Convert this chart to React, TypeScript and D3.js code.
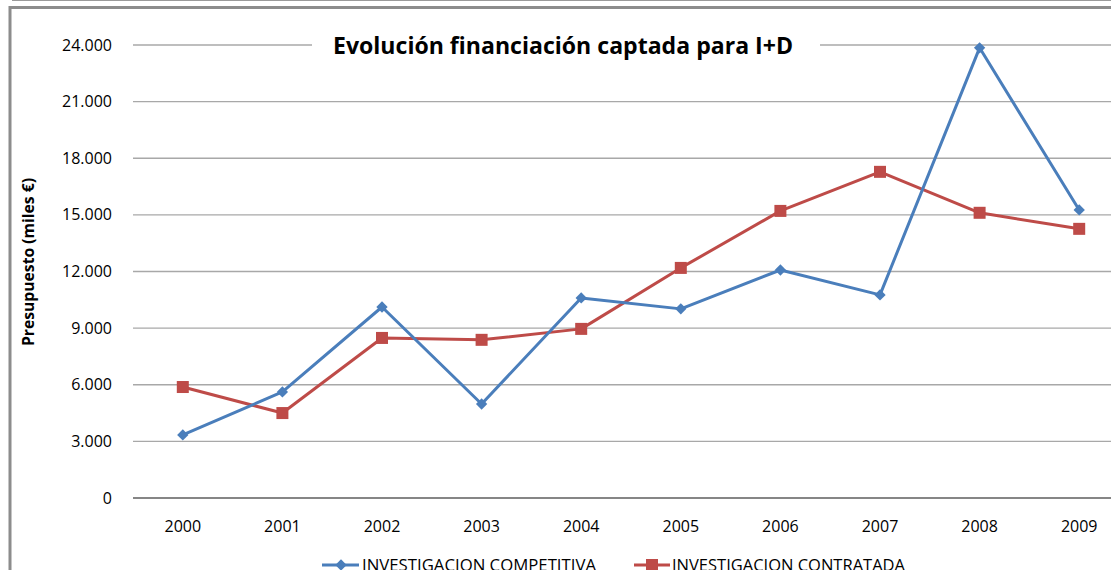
import React from "react";
import * as d3 from "d3";

const years = ["2000", "2001", "2002", "2003", "2004", "2005", "2006", "2007", "2008", "2009"];
const competitiva = [3340, 5620, 10120, 4980, 10600, 10020, 12080, 10760, 23850, 15260];
const contratada = [5880, 4500, 8480, 8380, 8960, 12190, 15210, 17280, 15110, 14260];
const yTicks = [0, 3000, 6000, 9000, 12000, 15000, 18000, 21000, 24000];

const W = 1111;
const H = 570;
const FONT = "'Open Sans', sans-serif";
const BLUE = "#4a7ebb";
const RED = "#be4b48";

const fmt = (v: number) => (v === 0 ? "0" : d3.format(",")(v).replace(/,/g, "."));

export default function App() {
  const x = d3.scaleBand<string>().domain(years).range([133, 1129]);
  const y = d3.scaleLinear().domain([0, 24000]).range([498, 45]);
  const cx = (i: number) => (x(years[i]) ?? 0) + x.bandwidth() / 2;

  const line = d3
    .line<number>()
    .x((_, i) => cx(i))
    .y((d) => y(d));

  return (
    <div style={{ position: "fixed", left: 0, top: 0 }}>
      <svg width={W} height={H} style={{ display: "block", background: "#fff" }}>
        {/* marco */}
        <line x1={12} x2={W} y1={0.5} y2={0.5} stroke="#9a9a9a" strokeWidth={1} />
        <path d={`M10,${H} V7.5 H${W}`} fill="none" stroke="#8c8c8c" strokeWidth={3} />

        {/* rejilla */}
        {yTicks.map((t) => (
          <g key={t}>
            <line
              x1={133}
              x2={W}
              y1={y(t)}
              y2={y(t)}
              stroke={t === 0 ? "#868686" : "#a8a8a8"}
              strokeWidth={t === 0 ? 2 : 1.3}
            />
            <text
              x={112}
              y={y(t)}
              dy="0.35em"
              textAnchor="end"
              fontFamily={FONT}
              fontSize={16}
              fill="#000"
            >
              {fmt(t)}
            </text>
          </g>
        ))}

        {years.map((yr, i) => (
          <text
            key={yr}
            x={cx(i)}
            y={532}
            textAnchor="middle"
            fontFamily={FONT}
            fontSize={16}
            fill="#000"
          >
            {yr}
          </text>
        ))}

        {/* titulo */}
        <rect x={312} y={28} width={508} height={36} fill="#fff" />
        <text
          x={563}
          y={54}
          textAnchor="middle"
          fontFamily={FONT}
          fontSize={23}
          fontWeight="bold"
          textLength={460}
          lengthAdjust="spacingAndGlyphs"
        >
          Evolución financiación captada para I+D
        </text>

        <text
          transform="translate(34,262) rotate(-90)"
          textAnchor="middle"
          fontFamily={FONT}
          fontSize={16.5}
          fontWeight="bold"
          textLength={168}
          lengthAdjust="spacingAndGlyphs"
        >
          Presupuesto (miles €)
        </text>

        {/* series */}
        <path d={line(contratada) ?? ""} fill="none" stroke={RED} strokeWidth={3} strokeLinejoin="round" />
        <path d={line(competitiva) ?? ""} fill="none" stroke={BLUE} strokeWidth={3} strokeLinejoin="round" />
        {contratada.map((v, i) => (
          <rect key={i} x={cx(i) - 6} y={y(v) - 6} width={12} height={12} fill={RED} />
        ))}
        {competitiva.map((v, i) => (
          <rect
            key={i}
            x={-4}
            y={-4}
            width={8}
            height={8}
            fill={BLUE}
            transform={`translate(${cx(i)},${y(v)}) rotate(45)`}
          />
        ))}

        {/* leyenda */}
        <line x1={322} x2={359} y1={565} y2={565} stroke={BLUE} strokeWidth={3} />
        <rect x={-4} y={-4} width={8} height={8} fill={BLUE} transform="translate(341,565) rotate(45)" />
        <text x={362} y={571} fontFamily={FONT} fontSize={15.5} textLength={234} lengthAdjust="spacingAndGlyphs">
          INVESTIGACION COMPETITIVA
        </text>
        <line x1={634} x2={670} y1={565} y2={565} stroke={RED} strokeWidth={3} />
        <rect x={646} y={559} width={12} height={12} fill={RED} />
        <text x={672} y={571} fontFamily={FONT} fontSize={15.5} textLength={233} lengthAdjust="spacingAndGlyphs">
          INVESTIGACION CONTRATADA
        </text>
      </svg>
    </div>
  );
}
